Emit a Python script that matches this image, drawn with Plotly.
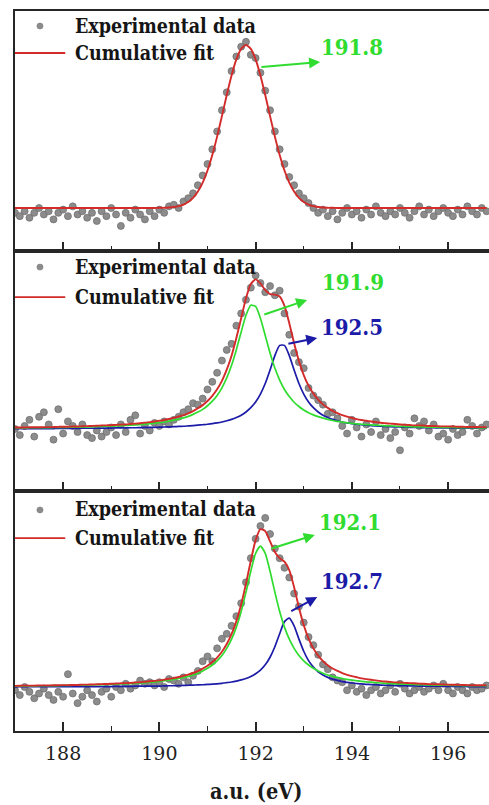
import plotly.graph_objects as go

# ---------------- data ----------------
energy = [
    187.0, 187.1, 187.2, 187.3, 187.4, 187.5, 187.6, 187.7, 187.8, 187.9,
    188.0, 188.1, 188.2, 188.3, 188.4, 188.5, 188.6, 188.7, 188.8, 188.9,
    189.0, 189.1, 189.2, 189.3, 189.4, 189.5, 189.6, 189.7, 189.8, 189.9,
    190.0, 190.1, 190.2, 190.3, 190.4, 190.5, 190.6, 190.7, 190.8, 190.9,
    191.0, 191.1, 191.2, 191.3, 191.4, 191.5, 191.6, 191.7, 191.8, 191.9,
    192.0, 192.1, 192.2, 192.3, 192.4, 192.5, 192.6, 192.7, 192.8, 192.9,
    193.0, 193.1, 193.2, 193.3, 193.4, 193.5, 193.6, 193.7, 193.8, 193.9,
    194.0, 194.1, 194.2, 194.3, 194.4, 194.5, 194.6, 194.7, 194.8, 194.9,
    195.0, 195.1, 195.2, 195.3, 195.4, 195.5, 195.6, 195.7, 195.8, 195.9,
    196.0, 196.1, 196.2, 196.3, 196.4, 196.5, 196.6, 196.7, 196.8,
]

# Panel 1 (top)
exp1 = [
    -0.03, -0.05, -0.02, -0.06, -0.03, 0.00, -0.04, -0.02, -0.07, -0.03,
    -0.01, -0.05, 0.01, -0.04, -0.02, -0.06, -0.03, -0.08, -0.02, -0.05,
    0.00, -0.04, -0.11, -0.03, -0.06, -0.01, -0.04, -0.07, -0.02, -0.05,
    -0.01, -0.03, 0.01, 0.02, 0.00, 0.04, 0.06, 0.09, 0.14, 0.20,
    0.27, 0.36, 0.47, 0.60, 0.71, 0.84, 0.93, 0.99, 1.02, 0.94,
    0.92, 0.83, 0.72, 0.60, 0.47, 0.36, 0.27, 0.19, 0.14, 0.09,
    0.06, 0.03, 0.00, -0.03, -0.01, -0.05, -0.02, -0.07, -0.03, 0.00,
    -0.04, -0.02, -0.06, -0.01, -0.04, 0.01, -0.03, -0.05, -0.02, -0.04,
    0.00, -0.03, -0.06, -0.02, 0.01, -0.04, -0.01, -0.05, -0.02, 0.00,
    -0.03, -0.05, -0.01, -0.04, 0.01, -0.02, -0.04, 0.00, -0.02,
]
fit1 = [
    0, 0, 0, 0, 0, 0, 0, 0, 0, 0,
    0, 0, 0, 0, 0, 0, 0, 0, 0, 0,
    0, 0, 0, 0, 0, 0, 0, 0, 0, 0,
    0.001, 0.001, 0.003, 0.006, 0.011, 0.021, 0.037, 0.062, 0.101, 0.156,
    0.230, 0.325, 0.438, 0.564, 0.693, 0.813, 0.912, 0.977, 1.000, 0.977,
    0.912, 0.813, 0.693, 0.564, 0.438, 0.325, 0.230, 0.156, 0.101, 0.062,
    0.037, 0.021, 0.011, 0.006, 0.003, 0.001, 0.001, 0, 0, 0,
    0, 0, 0, 0, 0, 0, 0, 0, 0, 0,
    0, 0, 0, 0, 0, 0, 0, 0, 0, 0,
    0, 0, 0, 0, 0, 0, 0, 0, 0,
]

# Panel 2 (middle)
exp2 = [
    0.00, -0.04, 0.02, 0.06, -0.05, 0.08, 0.11, 0.03, -0.07, 0.13,
    -0.03, 0.05, 0.02, -0.02, 0.03, -0.04, -0.06, -0.01, -0.05, -0.02,
    0.01, -0.04, 0.03, -0.02, 0.06, 0.09, -0.03, 0.02, -0.01, 0.04,
    0.02, 0.05, 0.03, 0.06, 0.08, 0.11, 0.13, 0.17, 0.16, 0.20,
    0.26, 0.31, 0.37, 0.45, 0.52, 0.56, 0.68, 0.76, 0.85, 0.93,
    1.01, 0.96, 0.90, 0.94, 0.88, 0.91, 0.76, 0.62, 0.50, 0.44,
    0.40, 0.27, 0.22, 0.19, 0.16, 0.10, 0.11, 0.07, 0.02, -0.03,
    0.06, 0.01, -0.05, 0.03, -0.02, 0.05, -0.04, 0.00, -0.06, -0.02,
    -0.14, 0.01, -0.03, 0.07, 0.02, 0.05, -0.01, 0.03, -0.05, -0.03,
    -0.07, 0.00, -0.04, -0.02, 0.06, 0.02, -0.03, 0.01, 0.03,
]
green2 = [
    0.007, 0.007, 0.007, 0.008, 0.008, 0.008, 0.009, 0.009, 0.010, 0.010,
    0.011, 0.011, 0.012, 0.012, 0.013, 0.014, 0.015, 0.016, 0.017, 0.018,
    0.019, 0.020, 0.022, 0.023, 0.025, 0.027, 0.029, 0.032, 0.035, 0.038,
    0.042, 0.046, 0.052, 0.058, 0.065, 0.073, 0.083, 0.096, 0.111, 0.129,
    0.153, 0.183, 0.221, 0.271, 0.336, 0.419, 0.522, 0.638, 0.748, 0.814,
    0.806, 0.728, 0.615, 0.500, 0.401, 0.322, 0.260, 0.213, 0.176, 0.148,
    0.125, 0.107, 0.093, 0.081, 0.071, 0.063, 0.056, 0.050, 0.045, 0.041,
    0.037, 0.034, 0.031, 0.029, 0.027, 0.025, 0.023, 0.021, 0.020, 0.019,
    0.017, 0.016, 0.015, 0.014, 0.014, 0.013, 0.012, 0.012, 0.011, 0.010,
    0.010, 0.010, 0.009, 0.009, 0.008, 0.008, 0.008, 0.007, 0.007,
]
blue2 = [
    0.003, 0.003, 0.003, 0.003, 0.003, 0.003, 0.003, 0.003, 0.003, 0.004,
    0.004, 0.004, 0.004, 0.004, 0.005, 0.005, 0.005, 0.005, 0.006, 0.006,
    0.006, 0.007, 0.007, 0.007, 0.008, 0.008, 0.009, 0.010, 0.010, 0.011,
    0.012, 0.013, 0.014, 0.015, 0.017, 0.018, 0.020, 0.022, 0.025, 0.028,
    0.031, 0.035, 0.040, 0.046, 0.054, 0.063, 0.076, 0.091, 0.112, 0.140,
    0.178, 0.230, 0.299, 0.388, 0.483, 0.550, 0.550, 0.483, 0.388, 0.299,
    0.230, 0.178, 0.140, 0.112, 0.091, 0.076, 0.063, 0.054, 0.046, 0.040,
    0.035, 0.031, 0.028, 0.025, 0.022, 0.020, 0.018, 0.017, 0.015, 0.014,
    0.013, 0.012, 0.011, 0.010, 0.010, 0.009, 0.008, 0.008, 0.007, 0.007,
    0.007, 0.006, 0.006, 0.006, 0.005, 0.005, 0.005, 0.005, 0.004,
]
fit2 = [
    0.010, 0.010, 0.010, 0.011, 0.011, 0.011, 0.012, 0.012, 0.013, 0.014,
    0.015, 0.015, 0.016, 0.016, 0.018, 0.019, 0.020, 0.021, 0.023, 0.024,
    0.025, 0.027, 0.029, 0.030, 0.033, 0.035, 0.038, 0.042, 0.045, 0.049,
    0.054, 0.059, 0.066, 0.073, 0.082, 0.091, 0.103, 0.118, 0.136, 0.157,
    0.184, 0.218, 0.261, 0.317, 0.390, 0.482, 0.598, 0.729, 0.860, 0.954,
    0.984, 0.958, 0.914, 0.888, 0.884, 0.872, 0.810, 0.696, 0.564, 0.447,
    0.355, 0.285, 0.233, 0.193, 0.162, 0.139, 0.119, 0.104, 0.091, 0.081,
    0.072, 0.065, 0.059, 0.054, 0.049, 0.045, 0.041, 0.038, 0.035, 0.033,
    0.030, 0.028, 0.026, 0.024, 0.024, 0.022, 0.020, 0.020, 0.018, 0.017,
    0.017, 0.016, 0.015, 0.015, 0.013, 0.013, 0.013, 0.012, 0.011,
]

# Panel 3 (bottom)
exp3 = [
    -0.02, -0.05, 0.00, -0.03, -0.07, -0.04, -0.01, -0.05, -0.08, -0.03,
    -0.06, 0.08, -0.04, -0.10, -0.06, -0.02, -0.05, -0.09, -0.03, -0.01,
    -0.06, 0.00, -0.02, 0.02, -0.01, 0.01, 0.04, 0.02, 0.03, 0.01,
    0.03, 0.00, 0.05, 0.04, 0.02, 0.06, 0.03, 0.07, 0.10, 0.16,
    0.19, 0.16, 0.24, 0.30, 0.33, 0.38, 0.44, 0.52, 0.65, 0.80,
    0.92, 1.00, 1.05, 0.95, 0.86, 0.80, 0.74, 0.68, 0.58, 0.50,
    0.40, 0.31, 0.26, 0.20, 0.14, 0.11, 0.06, 0.04, 0.03, -0.02,
    0.01, -0.03, -0.01, -0.05, -0.02, 0.00, -0.04, -0.02, 0.01, -0.03,
    0.02, -0.01, -0.04, -0.02, 0.00, -0.03, -0.01, 0.01, -0.02, 0.02,
    -0.02, -0.04, 0.00, -0.02, -0.04, 0.00, -0.02, -0.01, 0.01,
]
green3 = [
    0.006, 0.006, 0.007, 0.007, 0.007, 0.008, 0.008, 0.008, 0.009, 0.009,
    0.010, 0.010, 0.011, 0.011, 0.012, 0.012, 0.013, 0.014, 0.015, 0.016,
    0.017, 0.018, 0.019, 0.020, 0.022, 0.023, 0.025, 0.027, 0.030, 0.032,
    0.035, 0.039, 0.043, 0.047, 0.053, 0.059, 0.066, 0.075, 0.086, 0.100,
    0.116, 0.137, 0.163, 0.196, 0.240, 0.297, 0.372, 0.469, 0.589, 0.719,
    0.830, 0.875, 0.830, 0.719, 0.589, 0.469, 0.372, 0.297, 0.240, 0.196,
    0.163, 0.137, 0.116, 0.100, 0.086, 0.075, 0.066, 0.059, 0.053, 0.047,
    0.043, 0.039, 0.035, 0.032, 0.030, 0.027, 0.025, 0.023, 0.022, 0.020,
    0.019, 0.018, 0.017, 0.016, 0.015, 0.014, 0.013, 0.012, 0.012, 0.011,
    0.011, 0.010, 0.010, 0.009, 0.009, 0.008, 0.008, 0.008, 0.007,
]
blue3 = [
    0.001, 0.002, 0.002, 0.002, 0.002, 0.002, 0.002, 0.002, 0.002, 0.002,
    0.002, 0.002, 0.002, 0.002, 0.003, 0.003, 0.003, 0.003, 0.003, 0.003,
    0.003, 0.004, 0.004, 0.004, 0.004, 0.005, 0.005, 0.005, 0.006, 0.006,
    0.006, 0.007, 0.008, 0.008, 0.009, 0.010, 0.011, 0.012, 0.013, 0.014,
    0.016, 0.018, 0.020, 0.023, 0.027, 0.031, 0.037, 0.044, 0.053, 0.065,
    0.082, 0.105, 0.138, 0.185, 0.250, 0.331, 0.406, 0.428, 0.380, 0.298,
    0.222, 0.164, 0.124, 0.095, 0.075, 0.060, 0.049, 0.041, 0.034, 0.029,
    0.025, 0.022, 0.019, 0.017, 0.015, 0.014, 0.012, 0.011, 0.010, 0.009,
    0.009, 0.008, 0.007, 0.007, 0.006, 0.006, 0.005, 0.005, 0.005, 0.005,
    0.004, 0.004, 0.004, 0.004, 0.003, 0.003, 0.003, 0.003, 0.003,
]
fit3 = [
    0.007, 0.008, 0.009, 0.009, 0.009, 0.010, 0.010, 0.010, 0.011, 0.011,
    0.012, 0.012, 0.013, 0.013, 0.015, 0.015, 0.016, 0.017, 0.018, 0.019,
    0.020, 0.022, 0.023, 0.024, 0.026, 0.028, 0.030, 0.032, 0.036, 0.038,
    0.041, 0.046, 0.051, 0.055, 0.062, 0.069, 0.077, 0.087, 0.099, 0.114,
    0.132, 0.155, 0.183, 0.219, 0.267, 0.328, 0.409, 0.513, 0.642, 0.784,
    0.912, 0.980, 0.968, 0.904, 0.839, 0.800, 0.778, 0.725, 0.620, 0.494,
    0.385, 0.301, 0.240, 0.195, 0.161, 0.135, 0.115, 0.100, 0.087, 0.076,
    0.068, 0.061, 0.054, 0.049, 0.045, 0.041, 0.037, 0.034, 0.032, 0.029,
    0.028, 0.026, 0.024, 0.023, 0.021, 0.020, 0.018, 0.017, 0.017, 0.016,
    0.015, 0.014, 0.014, 0.013, 0.012, 0.011, 0.011, 0.011, 0.010,
]

# peak labels (binding energies, eV)
peak_labels_1 = ["191.8"]
peak_labels_2 = ["191.9", "192.5"]
peak_labels_3 = ["192.1", "192.7"]
x_ticks = [188, 190, 192, 194, 196]
legend_names = ["Experimental data", "Cumulative fit"]
x_title = "a.u. (eV)"

# ---------------- styling ----------------
F_SERIF = "DejaVu Serif Condensed, DejaVu Serif"
F_TICK = "DejaVu Serif"
RED = "#d32a2a"
GREEN = "#2fdc2f"
BLUE = "#1b1ba8"
GREY = "#8c8c8c"
AXC = "#262626"

fig = go.Figure()

panels = [
    dict(exp=exp1, fit=fit1, comps=[], yr=[-0.264, 1.209], dom=[2 / 3, 1.0]),
    dict(exp=exp2, fit=fit2, comps=[(blue2, BLUE), (green2, GREEN)],
         yr=[-0.408, 1.171], dom=[1 / 3, 2 / 3]),
    dict(exp=exp3, fit=fit3, comps=[(blue3, BLUE), (green3, GREEN)],
         yr=[-0.273, 1.217], dom=[0.0, 1 / 3]),
]

layout_axes = {}
for i, p in enumerate(panels, start=1):
    xa = "x" if i == 1 else f"x{i}"
    ya = "y" if i == 1 else f"y{i}"
    fig.add_trace(go.Scatter(
        x=energy, y=p["exp"], mode="markers", xaxis=xa, yaxis=ya,
        name=legend_names[0], showlegend=False,
        marker=dict(size=7, color=GREY, line=dict(color="#6a6a6a", width=0.7)),
    ))
    for comp, col in p["comps"]:
        fig.add_trace(go.Scatter(
            x=energy, y=comp, mode="lines", xaxis=xa, yaxis=ya, showlegend=False,
            line=dict(color=col, width=1.7, shape="spline", smoothing=0.6),
        ))
    fig.add_trace(go.Scatter(
        x=energy, y=p["fit"], mode="lines", xaxis=xa, yaxis=ya,
        name=legend_names[1], showlegend=False,
        line=dict(color=RED, width=1.9, shape="spline", smoothing=0.6),
    ))

    xkey = "xaxis" if i == 1 else f"xaxis{i}"
    ykey = "yaxis" if i == 1 else f"yaxis{i}"
    layout_axes[xkey] = dict(
        range=[187.0, 196.85], anchor=ya, domain=[0, 1],
        showline=True, linecolor=AXC, linewidth=2, mirror=True,
        ticks="inside", ticklen=9, tickwidth=1.6, tickcolor=AXC,
        tickvals=x_ticks, ticktext=[str(t) for t in x_ticks],
        minor=dict(ticks="inside", ticklen=5, tickwidth=1.4, tickcolor=AXC, dtick=1, tick0=187),
        showgrid=False, zeroline=False,
        showticklabels=(i == 3),
        tickfont=dict(family=F_TICK, size=19, color="#222222"),
        ticklabelstandoff=4,
    )
    if i != 1:
        layout_axes[xkey]["matches"] = "x"
    layout_axes[ykey] = dict(
        range=p["yr"], domain=p["dom"], anchor=xa,
        showline=True, linecolor=AXC, linewidth=2, mirror=False,
        ticks="", showticklabels=False, showgrid=False, zeroline=False,
    )

fig.update_layout(**layout_axes)

annotations = []
shapes = []

# legend blocks inside each panel
leg_pos = [(0.9375, 0.825), (0.933, 0.808), (0.921, 0.804)]
for i, (y1, y2) in enumerate(leg_pos, start=1):
    xd = ("x" if i == 1 else f"x{i}") + " domain"
    yd = ("y" if i == 1 else f"y{i}") + " domain"
    annotations.append(dict(
        xref=xd, yref=yd, x=0.122, y=y1, xanchor="left", yanchor="middle",
        text="<b>" + legend_names[0] + "</b>", showarrow=False,
        font=dict(family=F_SERIF, size=19.5, color="#151515"),
    ))
    annotations.append(dict(
        xref=xd, yref=yd, x=0.122, y=y2, xanchor="left", yanchor="middle",
        text="<b>" + legend_names[1] + "</b>", showarrow=False,
        font=dict(family=F_SERIF, size=19.5, color="#151515"),
    ))
    shapes.append(dict(
        type="circle", xref=xd, yref=yd,
        x0=0.0527 - 0.0065, x1=0.0527 + 0.0065, y0=y1 - 0.0125, y1=y1 + 0.0125,
        fillcolor=GREY, line=dict(color="#7a7a7a", width=0.6),
    ))
    shapes.append(dict(
        type="line", xref=xd, yref=yd, x0=0.0, x1=0.106, y0=y2, y1=y2,
        line=dict(color=RED, width=1.8),
    ))

# peak labels and arrows: (axis idx, label, colour, text x,y, tail x,y, tip x,y)
peak_marks = [
    (1, peak_labels_1[0], GREEN, 194.00, 0.988, 192.09, 0.865, 193.34, 0.896),
    (2, peak_labels_2[0], GREEN, 194.02, 0.967, 192.15, 0.750, 193.07, 0.849),
    (2, peak_labels_2[1], BLUE, 194.00, 0.671, 192.65, 0.559, 193.28, 0.599),
    (3, peak_labels_3[0], GREEN, 193.96, 1.025, 192.30, 0.857, 193.23, 0.944),
    (3, peak_labels_3[1], BLUE, 194.00, 0.658, 192.71, 0.466, 193.28, 0.559),
]
for idx, lab, col, tx, ty, ax0, ay0, hx, hy in peak_marks:
    xa = "x" if idx == 1 else f"x{idx}"
    ya = "y" if idx == 1 else f"y{idx}"
    annotations.append(dict(
        xref=xa, yref=ya, x=tx, y=ty, text="<b>" + lab + "</b>", showarrow=False,
        xanchor="center", yanchor="middle",
        font=dict(family=F_SERIF, size=22, color=col),
    ))
    annotations.append(dict(
        xref=xa, yref=ya, x=hx, y=hy, axref=xa, ayref=ya, ax=ax0, ay=ay0,
        text="", showarrow=True, arrowhead=2, arrowsize=1.1, arrowwidth=2,
        arrowcolor=col, standoff=0, startstandoff=0,
    ))

# x-axis title
annotations.append(dict(
    xref="x3", yref="paper", x=192.0, y=-0.0847, text="<b>" + x_title + "</b>",
    showarrow=False, xanchor="center", yanchor="middle",
    font=dict(family=F_SERIF, size=21.5, color="#1a1a1a"),
))

fig.update_layout(
    width=489, height=805, autosize=False,
    margin=dict(l=15, r=0, t=11, b=74),
    paper_bgcolor="white", plot_bgcolor="white",
    showlegend=False,
    annotations=annotations, shapes=shapes,
)

fig.write_html(
    "out.html",
    config={"displayModeBar": False},
    post_script="document.body.style.margin='0';document.body.style.overflow='hidden';",
)
